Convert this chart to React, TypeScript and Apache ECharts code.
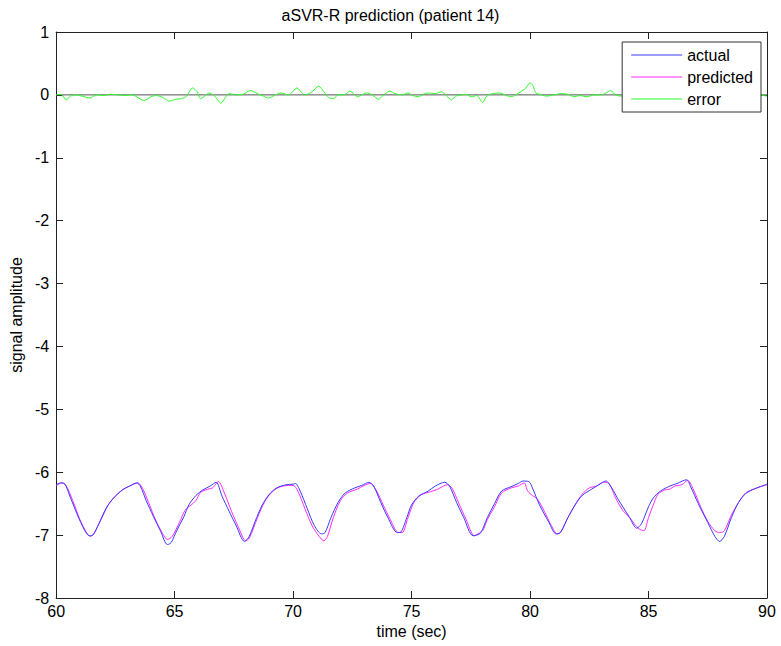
import React, { useEffect, useRef } from "react";
import * as echarts from "echarts";

const title = "aSVR-R prediction (patient 14)";
const xName = "time (sec)";
const yName = "signal amplitude";
const seriesNames = ["actual", "predicted", "error"];

const actualT = [60.0, 60.2, 60.35, 60.6, 60.9, 61.2, 61.4, 61.55, 61.8, 62.1, 62.4, 62.8, 63.1, 63.4, 63.55, 63.8, 64.1, 64.4, 64.7, 64.85, 65.1, 65.4, 65.6, 65.9, 66.2, 66.5, 66.75, 67.0, 67.3, 67.6, 67.95, 68.15, 68.4, 68.7, 69.0, 69.3, 69.7, 70.0, 70.1, 70.3, 70.6, 70.9, 71.2, 71.35, 71.6, 71.9, 72.2, 72.6, 72.9, 73.2, 73.4, 73.7, 74.0, 74.4, 74.55, 74.8, 75.0, 75.3, 75.7, 76.0, 76.4, 76.6, 76.9, 77.2, 77.6, 77.9, 78.2, 78.5, 78.8, 79.2, 79.5, 79.7, 79.95, 80.1, 80.4, 80.8, 81.1, 81.25, 81.6, 81.9, 82.2, 82.6, 82.9, 83.2, 83.45, 83.7, 83.95, 84.2, 84.5, 84.7, 85.0, 85.2, 85.5, 85.9, 86.2, 86.6, 86.8, 87.1, 87.5, 87.8, 88.0, 88.2, 88.5, 88.8, 89.1, 89.5, 90.0];
const actualV = [-6.20, -6.17, -6.18, -6.40, -6.68, -6.92, -7.01, -7.00, -6.82, -6.58, -6.42, -6.28, -6.22, -6.17, -6.22, -6.45, -6.70, -6.93, -7.15, -7.12, -6.92, -6.70, -6.52, -6.37, -6.28, -6.22, -6.16, -6.38, -6.62, -6.85, -7.10, -7.02, -6.78, -6.52, -6.35, -6.25, -6.20, -6.19, -6.18, -6.30, -6.58, -6.85, -6.98, -6.96, -6.72, -6.48, -6.33, -6.25, -6.21, -6.16, -6.22, -6.48, -6.72, -6.96, -6.95, -6.72, -6.52, -6.38, -6.30, -6.22, -6.16, -6.22, -6.48, -6.72, -7.01, -6.97, -6.72, -6.50, -6.30, -6.23, -6.18, -6.14, -6.15, -6.25, -6.52, -6.80, -6.98, -6.97, -6.72, -6.52, -6.37, -6.27, -6.20, -6.14, -6.25, -6.42, -6.57, -6.72, -6.89, -6.82, -6.55, -6.41, -6.30, -6.22, -6.18, -6.12, -6.25, -6.50, -6.80, -7.02, -7.10, -7.02, -6.72, -6.48, -6.34, -6.26, -6.19];

const predT = [60.0, 60.2, 60.4, 60.7, 61.0, 61.3, 61.45, 61.6, 61.9, 62.2, 62.5, 62.8, 63.1, 63.45, 63.65, 63.9, 64.2, 64.5, 64.7, 64.9, 65.2, 65.45, 65.7, 65.9, 66.1, 66.4, 66.6, 66.85, 67.1, 67.4, 67.7, 68.0, 68.15, 68.5, 68.8, 69.1, 69.4, 69.8, 70.0, 70.2, 70.5, 70.8, 71.1, 71.3, 71.45, 71.7, 72.0, 72.3, 72.7, 73.0, 73.25, 73.5, 73.8, 74.1, 74.4, 74.6, 74.85, 75.1, 75.4, 75.8, 76.1, 76.5, 76.7, 77.0, 77.3, 77.65, 77.8, 78.0, 78.2, 78.5, 78.8, 79.2, 79.5, 79.75, 79.9, 80.1, 80.3, 80.6, 80.9, 81.15, 81.3, 81.6, 81.9, 82.2, 82.5, 82.8, 83.1, 83.3, 83.6, 83.9, 84.2, 84.4, 84.6, 84.8, 85.0, 85.2, 85.4, 85.7, 85.9, 86.1, 86.4, 86.65, 86.9, 87.2, 87.5, 87.8, 88.0, 88.2, 88.5, 88.8, 89.1, 89.5, 90.0];
const predV = [-6.22, -6.17, -6.20, -6.45, -6.75, -6.97, -7.02, -6.97, -6.75, -6.52, -6.38, -6.28, -6.22, -6.17, -6.26, -6.48, -6.76, -6.98, -7.07, -7.02, -6.80, -6.60, -6.52, -6.45, -6.32, -6.27, -6.25, -6.15, -6.33, -6.62, -6.88, -7.09, -7.05, -6.72, -6.47, -6.32, -6.24, -6.21, -6.21, -6.30, -6.58, -6.85, -7.02, -7.09, -7.02, -6.72, -6.45, -6.33, -6.27, -6.21, -6.18, -6.28, -6.52, -6.75, -6.95, -6.96, -6.72, -6.48, -6.36, -6.31, -6.27, -6.20, -6.25, -6.50, -6.75, -7.01, -6.98, -6.93, -6.75, -6.55, -6.33, -6.25, -6.22, -6.17, -6.30, -6.37, -6.42, -6.62, -6.85, -6.98, -6.95, -6.72, -6.52, -6.35, -6.25, -6.22, -6.16, -6.17, -6.40, -6.60, -6.72, -6.82, -6.90, -6.93, -6.72, -6.52, -6.35, -6.28, -6.27, -6.22, -6.20, -6.13, -6.28, -6.55, -6.78, -6.93, -6.96, -6.93, -6.68, -6.48, -6.33, -6.26, -6.20];

const errT = [60.0, 60.2, 60.43, 60.6, 60.85, 61.1, 61.42, 61.7, 62.0, 62.3, 62.6, 62.9, 63.2, 63.72, 64.0, 64.2, 64.5, 64.78, 65.05, 65.3, 65.5, 65.76, 65.95, 66.1, 66.3, 66.45, 66.7, 66.95, 67.15, 67.3, 67.6, 67.9, 68.2, 68.5, 68.75, 68.98, 69.2, 69.5, 69.8, 70.17, 70.35, 70.5, 70.8, 71.08, 71.3, 71.5, 71.7, 71.9, 72.15, 72.4, 72.73, 72.9, 73.1, 73.35, 73.6, 73.8, 74.08, 74.3, 74.6, 74.85, 75.05, 75.28, 75.5, 75.7, 76.0, 76.26, 76.45, 76.68, 76.85, 77.1, 77.3, 77.52, 77.75, 78.0, 78.15, 78.3, 78.7, 78.95, 79.2, 79.4, 79.6, 79.8, 80.0, 80.12, 80.25, 80.5, 80.7, 81.0, 81.3, 81.6, 81.85, 82.1, 82.4, 82.7, 83.0, 83.2, 83.4, 83.6, 83.9, 84.2, 84.5, 84.8, 85.1, 85.4, 85.8, 86.2, 86.6, 87.0, 87.4, 87.8, 88.0, 88.3, 88.7, 89.0, 89.4, 89.7, 90.0];
const errV = [0.0, 0.01, -0.08, -0.02, 0.0, -0.02, -0.05, 0.0, -0.01, 0.01, 0.0, -0.01, 0.0, -0.09, -0.03, -0.01, -0.04, -0.1, -0.07, -0.06, -0.02, 0.11, 0.05, -0.06, -0.01, 0.03, -0.02, -0.13, -0.04, 0.02, 0.0, 0.01, 0.07, 0.02, -0.02, -0.05, -0.01, 0.03, 0.0, 0.11, 0.04, 0.0, 0.05, 0.14, 0.05, -0.04, -0.06, 0.0, 0.0, 0.06, -0.03, 0.0, 0.03, 0.0, -0.07, -0.01, 0.06, 0.02, 0.0, 0.03, -0.01, -0.03, 0.01, 0.03, 0.02, 0.05, 0.0, -0.08, -0.02, 0.0, 0.01, -0.03, -0.01, -0.12, -0.03, 0.01, 0.03, 0.0, -0.03, 0.0, 0.05, 0.1, 0.19, 0.15, 0.03, 0.0, -0.02, 0.0, 0.02, 0.01, -0.03, -0.01, -0.03, 0.0, 0.0, 0.03, 0.07, 0.0, -0.02, 0.01, 0.04, 0.06, 0.02, -0.02, 0.02, 0.0, -0.01, 0.02, -0.01, -0.1, -0.14, -0.06, 0.0, -0.03, 0.01, 0.0, -0.02];

const zeroT = [60, 90];
const zeroV = [0, 0];

const zip = (t: number[], v: number[]) => t.map((x, i) => [x, v[i]]);

const FONT = "Liberation Sans, Arial, Helvetica, sans-serif";
const FS = 16;

export default function App() {
  const ref = useRef<HTMLDivElement>(null);
  useEffect(() => {
    if (!ref.current) return;
    const chart = echarts.init(ref.current, undefined, { renderer: "svg" });
    const axisCommon = {
      axisLine: { show: true, onZero: false, lineStyle: { color: "#222", width: 1 } },
      axisTick: { show: true, inside: true, length: 7, lineStyle: { color: "#222" } },
      splitLine: { show: false },
    };
    chart.setOption({
      animation: false,
      backgroundColor: "#fff",
      textStyle: { fontFamily: FONT },
      title: {
        text: title,
        left: "center",
        top: 7,
        padding: [0, 0, 0, 38],
        textStyle: { fontSize: FS, fontWeight: "normal", color: "#000", fontFamily: FONT },
      },
      grid: { left: 53, right: 14, top: 32, bottom: 48, containLabel: false },
      legend: {
        data: seriesNames,
        orient: "vertical",
        right: 20,
        top: 42,
        icon: "rect",
        itemWidth: 51,
        itemHeight: 1,
        itemGap: 6,
        padding: [5, 8, 5, 9],
        backgroundColor: "#fff",
        borderColor: "#333",
        borderWidth: 1,
        borderRadius: 0,
        textStyle: { fontSize: FS, color: "#000", fontFamily: FONT },
      },
      xAxis: [
        {
          type: "value",
          min: 60,
          max: 90,
          interval: 5,
          position: "bottom",
          name: xName,
          nameLocation: "middle",
          nameGap: 22,
          nameTextStyle: { fontSize: FS, color: "#000" },
          axisLabel: { fontSize: FS, color: "#000", margin: 5 },
          ...axisCommon,
        },
        {
          type: "value",
          min: 60,
          max: 90,
          interval: 5,
          position: "top",
          axisLabel: { show: false },
          ...axisCommon,
        },
      ],
      yAxis: [
        {
          type: "value",
          min: -8,
          max: 1,
          interval: 1,
          position: "left",
          name: yName,
          nameLocation: "middle",
          nameGap: 20,
          nameTextStyle: { fontSize: FS, color: "#000" },
          axisLabel: { fontSize: FS, color: "#000", margin: 7 },
          ...axisCommon,
        },
        {
          type: "value",
          min: -8,
          max: 1,
          interval: 1,
          position: "right",
          axisLabel: { show: false },
          ...axisCommon,
        },
      ],
      series: [
        {
          name: "zero",
          type: "line",
          data: zip(zeroT, zeroV),
          symbol: "none",
          lineStyle: { color: "#555", width: 1 },
          silent: true,
          z: 1,
        },
        {
          name: seriesNames[0],
          type: "line",
          data: zip(actualT, actualV),
          symbol: "none",
          smooth: 0.3,
          color: "#3a3aff",
          lineStyle: { color: "#3a3aff", width: 1 },
          z: 3,
        },
        {
          name: seriesNames[1],
          type: "line",
          data: zip(predT, predV),
          symbol: "none",
          smooth: 0.3,
          color: "#ff2aff",
          lineStyle: { color: "#ff2aff", width: 1 },
          z: 2,
        },
        {
          name: seriesNames[2],
          type: "line",
          data: zip(errT, errV),
          symbol: "none",
          smooth: 0.3,
          color: "#2aff2a",
          lineStyle: { color: "#2aff2a", width: 1 },
          z: 2,
        },
      ],
    });
    return () => chart.dispose();
  }, []);
  return <div ref={ref} style={{ width: 781, height: 646, position: "absolute", left: 0, top: 0 }} />;
}
